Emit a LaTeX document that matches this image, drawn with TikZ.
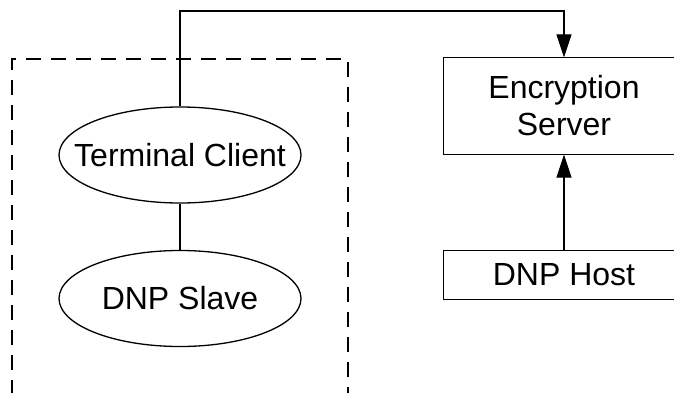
\documentclass[tikz,border=0pt]{standalone}
\usepackage{fontspec}
\setmainfont{Liberation Sans}
\usetikzlibrary{shapes.geometric,arrows.meta}
\begin{document}
\begin{tikzpicture}[x=1pt,y=-1pt,
  line width=1.3pt,
  every node/.style={font=\fontsize{32}{37}\selectfont, inner sep=0pt, align=center},
  oval/.style={draw, ellipse, inner xsep=-60pt, inner ysep=-30pt,
    minimum width=242pt, minimum height=96pt},
  box/.style={rectangle, minimum width=240pt},
  tip/.style={-{Triangle[length=23pt,width=15pt]}}]
  \useasboundingbox (0,0) rectangle (674,393);
  % dashed enclosure around the client side
  \draw[dash pattern=on 15pt off 10pt] (12,420) -- (12,59) -- (348,59) -- (348,420);
  % client side
  \node[oval] (tc) at (180,155) {Terminal Client};
  \node[oval] (ds) at (180,298.5) {DNP Slave};
  % server side: the boxes run on past the right border
  \node[box, minimum height=96pt] (es) at (564,106) {Encryption\\Server};
  \node[box, minimum height=48pt] (dh) at (564,275) {DNP Host};
  \draw (es.north west) rectangle ([xshift=60pt]es.south east);
  \draw (dh.north west) rectangle ([xshift=60pt]dh.south east);
  \coordinate (bend) at (180,11);
  % connectors
  \draw (tc) -- (ds);
  \draw[tip] (tc.north) -- (bend) -| (es.north);
  \draw[tip] (dh.north) -- (es.south);
\end{tikzpicture}
\end{document}
